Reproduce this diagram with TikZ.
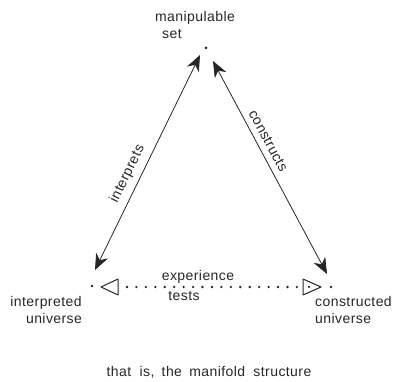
\documentclass[tikz,border=0pt]{standalone}
\usepackage{fontspec}
\setmainfont{Liberation Sans}[LetterSpace=3]
\usetikzlibrary{arrows.meta}
\begin{document}
\begin{tikzpicture}[x=1pt,y=-1pt,
  lbl/.style={font=\fontsize{14}{16}\selectfont, inner sep=0pt, text=black!85},
  ar/.style={line width=0.8pt, black!85, {Stealth[length=16pt,width=13pt,inset=5pt]}-{Stealth[length=16pt,width=13pt,inset=5pt]}},
  tri/.style={draw=black!85, line width=1pt, line join=round},
  dotline/.style={black!85, line width=2.6pt, line cap=round, dash pattern=on 0pt off 9.44pt},
  dotn/.style={circle, fill=black!85, inner sep=0pt, minimum size=3pt}]
\useasboundingbox (0,0) rectangle (397,382);
% top
\node[dotn] (apex) at (206,48) {};
\node[lbl, anchor=base] (mset) at (195,22) {manipulable};
\node[lbl, anchor=base] (setl) at (172,39) {set};
% arrow end points
\coordinate (lt) at (200,55);
\coordinate (lb) at (95,270);
\coordinate (rt) at (213,61);
\coordinate (rb) at (327,274);
\draw[ar] (lb) -- node[lbl, sloped, above=6pt, pos=0.42] {interprets} (lt);
\draw[ar] (rt) -- node[lbl, sloped, above=6pt, pos=0.4] {constructs} (rb);
% triangles
\coordinate (lapex) at (101,287);
\coordinate (lbase) at (118,287);
\draw[tri] (lapex) -- (118,279) -- (118,295) -- cycle;
\coordinate (rbase) at (303,287);
\coordinate (rapex) at (321,287);
\draw[tri] (rapex) -- (303,279) -- (303,295) -- cycle;
\node[dotn, minimum size=2.5pt] (rin) at (309,287) {};
\node[dotn, minimum size=2.6pt] (ldot) at (92,286) {};
\node[dotn, minimum size=2.6pt] (rdot) at (331,287) {};
\draw[dotline, shorten <=9pt, shorten >=6pt] (lbase) -- (rbase);
\node[lbl, anchor=base] (exp) at (198,281) {experience};
\node[lbl, anchor=base] (tests) at (184,301) {tests};
% corner labels
\node[lbl, anchor=base] (interp) at (46,307) {interpreted};
\node[lbl, anchor=base] (iuni) at (54,324) {universe};
\node[lbl, anchor=base west] (constr) at (315,307) {constructed};
\node[lbl, anchor=base west] (cuni) at (315,324) {universe};
% bottom
\node[lbl, anchor=base] (foot) at (209,377) {that\hspace{4pt} is,\hspace{3pt} the\hspace{3pt} manifold\hspace{4pt} structure};
\end{tikzpicture}
\end{document}
